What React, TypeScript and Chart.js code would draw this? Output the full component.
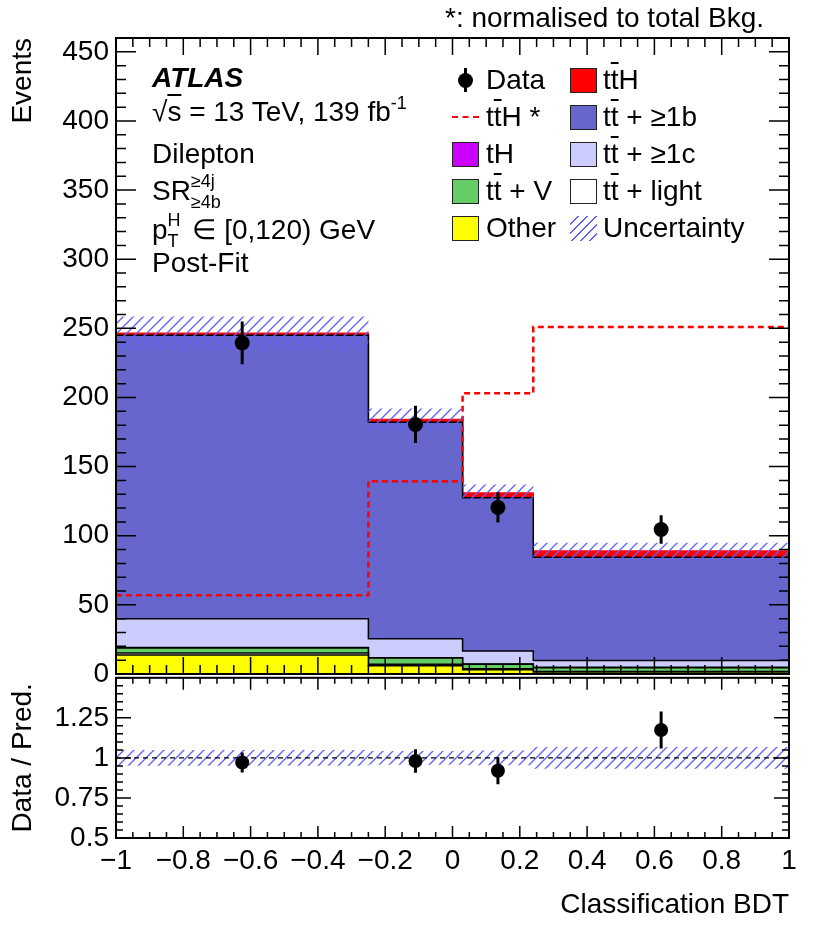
import React, { useEffect, useRef } from 'react';
import { Chart, registerables } from 'chart.js';

Chart.register(...registerables);

// bin edges of the classification BDT histogram
const binEdges = [-1, -0.25, 0.03, 0.24, 1];

// post-fit predictions per bin (events)
const other = [13.7, 6, 3, 1.5];
const ttLight = [1.5, 1, 0.8, 0.3];
const ttV = [3.6, 4.5, 3.2, 2.8];
const tH = [0.3, 0.3, 0.3, 0.2];
const ttc = [20.9, 13.7, 9.3, 5.0];
const ttb = [205, 156.5, 110.9, 74.6];
const ttH = [1.5, 2, 3.5, 4.6];
const ttHNorm = [57, 139.5, 203, 251];
const bkgUnc = [12, 8, 6, 6];

const dataValues = [239.5, 180.5, 120.5, 104.5];
const dataErrors = [15.5, 13.5, 11, 10.3];

// tick labels
const mainYTicks = [0, 50, 100, 150, 200, 250, 300, 350, 400, 450];
const ratioYTicks = [0.5, 0.75, 1, 1.25];
const xTickValues = [-1, -0.8, -0.6, -0.4, -0.2, 0, 0.2, 0.4, 0.6, 0.8, 1];

const FONT = '"Liberation Sans", Arial, Helvetica, sans-serif';
const FS = 28;
const HATCH = '#5f5fff';

Chart.defaults.font.family = FONT;
Chart.defaults.font.size = FS;
Chart.defaults.color = '#000';

const layers = [
  { name: 'Other', values: other, color: '#ffff00', border: '#000' },
  { name: 'tt+light', values: ttLight, color: '#ffffff', border: '#000' },
  { name: 'tt+V', values: ttV, color: '#66cc66', border: '#000' },
  { name: 'tH', values: tH, color: '#cc00ff', border: '#000' },
  { name: 'tt+>=1c', values: ttc, color: '#ccccff', border: '#000' },
  { name: 'tt+>=1b', values: ttb, color: '#6666cc', border: '#000' },
  { name: 'ttH', values: ttH, color: '#ff0000', border: '#ff0000' },
];

const histPoints = (values: number[]) =>
  values.flatMap((v, i) => [
    { x: binEdges[i], y: v },
    { x: binEdges[i + 1], y: v },
  ]);

const centers = binEdges.slice(0, -1).map((e, i) => (e + binEdges[i + 1]) / 2);

const errorSegments = (ys: number[], es: number[]) =>
  centers.flatMap((x, i) => [
    { x, y: ys[i] - es[i] },
    { x, y: ys[i] + es[i] },
    { x, y: null },
  ]);

function hatchPattern(ctx: CanvasRenderingContext2D) {
  const s = 10;
  const c = document.createElement('canvas');
  c.width = s;
  c.height = s;
  const g = c.getContext('2d')!;
  g.strokeStyle = HATCH;
  g.lineWidth = 1.3;
  g.beginPath();
  g.moveTo(0, s);
  g.lineTo(s, 0);
  g.moveTo(-s / 2, s / 2);
  g.lineTo(s / 2, -s / 2);
  g.moveTo(s / 2, s * 1.5);
  g.lineTo(s * 1.5, s / 2);
  g.stroke();
  return ctx.createPattern(c, 'repeat')!;
}

type TickSpec = {
  xMajor: number; xMinor: number; yMajor: number; yMinor: number;
  xMajLen: number; xMinLen: number; yMajLen: number; yMinLen: number;
};

const isMultiple = (v: number, step: number) => Math.abs(v / step - Math.round(v / step)) < 1e-6;

const frameTicks = (spec: TickSpec) => ({
  id: 'frameTicks',
  afterDraw(chart: any) {
    const { ctx, chartArea: a, scales } = chart;
    const xs = scales.x;
    const ys = scales.y;
    ctx.save();
    ctx.strokeStyle = '#000';
    ctx.lineWidth = 1.5;
    ctx.beginPath();
    const x0 = Math.ceil(xs.min / spec.xMinor - 1e-6);
    const x1 = Math.floor(xs.max / spec.xMinor + 1e-6);
    for (let k = x0; k <= x1; k++) {
      const v = k * spec.xMinor;
      const len = isMultiple(v, spec.xMajor) ? spec.xMajLen : spec.xMinLen;
      const px = xs.getPixelForValue(v);
      ctx.moveTo(px, a.bottom);
      ctx.lineTo(px, a.bottom - len);
      ctx.moveTo(px, a.top);
      ctx.lineTo(px, a.top + len);
    }
    const y0 = Math.ceil(ys.min / spec.yMinor - 1e-6);
    const y1 = Math.floor(ys.max / spec.yMinor + 1e-6);
    for (let k = y0; k <= y1; k++) {
      const v = k * spec.yMinor;
      const len = isMultiple(v, spec.yMajor) ? spec.yMajLen : spec.yMinLen;
      const py = ys.getPixelForValue(v);
      ctx.moveTo(a.left, py);
      ctx.lineTo(a.left + len, py);
      ctx.moveTo(a.right, py);
      ctx.lineTo(a.right - len, py);
    }
    ctx.stroke();
    ctx.lineWidth = 2;
    ctx.strokeRect(a.left, a.top, a.right - a.left, a.bottom - a.top);
    ctx.restore();
  },
});

const fmtX = (v: number) => String(Math.round(v * 10) / 10).replace('-', '\u2212');

const TT = () => (
  <span>
    t<span style={{ textDecoration: 'overline' }}>t</span>
  </span>
);

const Scripts = ({ sup, sub, width }: { sup: string; sub: string; width: number }) => (
  <span style={{ position: 'relative', display: 'inline-block', width, height: 20 }}>
    <span style={{ position: 'absolute', left: 0, top: -13, fontSize: 18 }}>{sup}</span>
    <span style={{ position: 'absolute', left: 0, top: 8, fontSize: 18 }}>{sub}</span>
  </span>
);

const Swatch = ({ left, cy, color, border = '1px solid #222' }: { left: number; cy: number; color: string; border?: string }) => (
  <div style={{ position: 'absolute', left, top: cy - 12.5, width: 27, height: 25, boxSizing: 'border-box', background: color, border }} />
);

export default function App() {
  const mainRef = useRef<HTMLCanvasElement>(null);
  const ratioRef = useRef<HTMLCanvasElement>(null);

  useEffect(() => {
    if (!mainRef.current || !ratioRef.current) return;
    const mctx = mainRef.current.getContext('2d')!;
    const rctx = ratioRef.current.getContext('2d')!;

    // cumulative stack built from the components
    const cum: number[][] = [];
    layers.forEach((l, j) => {
      cum.push(l.values.map((v, i) => v + (j > 0 ? cum[j - 1][i] : 0)));
    });
    const total = cum[cum.length - 1];

    const lineBase = { pointRadius: 0, pointHitRadius: 0, tension: 0 };

    const main = new Chart(mctx, {
      type: 'line',
      data: {
        datasets: [
          { ...lineBase, label: 'Data err', data: errorSegments(dataValues, dataErrors) as any, borderColor: '#000', borderWidth: 3, spanGaps: false },
          { label: 'Data', data: centers.map((x, i) => ({ x, y: dataValues[i] })), showLine: false, pointRadius: 7.5, pointBackgroundColor: '#000', pointBorderColor: '#000', pointBorderWidth: 0 },
          { ...lineBase, label: 'Unc up', data: histPoints(total.map((t, i) => t + bkgUnc[i])), borderWidth: 0, borderColor: 'rgba(0,0,0,0)', backgroundColor: hatchPattern(mctx), fill: '+1' },
          { ...lineBase, label: 'Unc down', data: histPoints(total.map((t, i) => t - bkgUnc[i])), borderWidth: 0, borderColor: 'rgba(0,0,0,0)', fill: false },
          { ...lineBase, label: 'ttH *', data: histPoints(ttHNorm), borderColor: '#ff0000', borderWidth: 2.5, borderDash: [6, 4], fill: false },
          ...layers.map((l, j) => ({
            ...lineBase,
            label: l.name,
            data: histPoints(cum[j]),
            borderColor: l.border,
            borderWidth: 1.5,
            backgroundColor: l.color,
            fill: 'origin',
          })),
        ],
      },
      options: {
        animation: false,
        responsive: false,
        events: [],
        layout: { padding: { left: 0, right: 41, top: 38, bottom: 26 } },
        plugins: { legend: { display: false }, tooltip: { enabled: false } },
        scales: {
          x: { type: 'linear', min: -1, max: 1, display: false },
          y: {
            type: 'linear',
            min: 0,
            max: 460,
            grid: { display: false, drawTicks: false },
            border: { display: false },
            ticks: { padding: 7, color: '#000', font: { size: FS }, callback: (v: any) => String(v) },
            afterBuildTicks: (s: any) => { s.ticks = mainYTicks.map((value) => ({ value })); },
            afterFit: (s: any) => { s.width = 116; },
            title: { display: true, text: 'Events', align: 'end', color: '#000', font: { size: FS }, padding: { top: 6, bottom: 0 } },
          },
        },
      },
      plugins: [frameTicks({ xMajor: 0.2, xMinor: 0.05, yMajor: 50, yMinor: 10, xMajLen: 17, xMinLen: 9, yMajLen: 20, yMinLen: 10 })],
    } as any);

    const ratioVals = dataValues.map((d, i) => d / total[i]);
    const ratioErrs = dataErrors.map((e, i) => e / total[i]);
    const relUnc = bkgUnc.map((u, i) => u / total[i]);

    const ratio = new Chart(rctx, {
      type: 'line',
      data: {
        datasets: [
          { ...lineBase, label: 'Ratio err', data: errorSegments(ratioVals, ratioErrs) as any, borderColor: '#000', borderWidth: 3, spanGaps: false },
          { label: 'Ratio', data: centers.map((x, i) => ({ x, y: ratioVals[i] })), showLine: false, pointRadius: 7, pointBackgroundColor: '#000', pointBorderColor: '#000', pointBorderWidth: 0 },
          { ...lineBase, label: 'One', data: [{ x: binEdges[0], y: 1 }, { x: binEdges[binEdges.length - 1], y: 1 }], borderColor: '#000', borderWidth: 1.2, borderDash: [5, 4], fill: false },
          { ...lineBase, label: 'Unc up', data: histPoints(relUnc.map((u) => 1 + u)), borderWidth: 0, borderColor: 'rgba(0,0,0,0)', backgroundColor: hatchPattern(rctx), fill: '+1' },
          { ...lineBase, label: 'Unc down', data: histPoints(relUnc.map((u) => 1 - u)), borderWidth: 0, borderColor: 'rgba(0,0,0,0)', fill: false },
        ],
      },
      options: {
        animation: false,
        responsive: false,
        events: [],
        layout: { padding: { left: 0, right: 41, top: 20, bottom: 0 } },
        plugins: { legend: { display: false }, tooltip: { enabled: false } },
        scales: {
          x: {
            type: 'linear',
            min: -1,
            max: 1,
            grid: { display: false, drawTicks: false },
            border: { display: false },
            ticks: { autoSkip: false, maxRotation: 0, minRotation: 0, padding: 6, color: '#000', font: { size: FS }, callback: (v: any) => fmtX(v) },
            afterBuildTicks: (s: any) => { s.ticks = xTickValues.map((value) => ({ value })); },
            afterFit: (s: any) => { s.height = 98; },
            title: { display: true, text: 'Classification BDT', align: 'end', color: '#000', font: { size: FS }, padding: { top: 0, bottom: 14 } },
          },
          y: {
            type: 'linear',
            min: 0.5,
            max: 1.5,
            grid: { display: false, drawTicks: false },
            border: { display: false },
            ticks: { padding: 7, color: '#000', font: { size: FS }, callback: (v: any) => String(v) },
            afterBuildTicks: (s: any) => { s.ticks = ratioYTicks.map((value) => ({ value })); },
            afterFit: (s: any) => { s.width = 116; },
            title: { display: true, text: 'Data / Pred.', align: 'center', color: '#000', font: { size: FS }, padding: { top: 6, bottom: 0 } },
          },
        },
      },
      plugins: [frameTicks({ xMajor: 0.2, xMinor: 0.05, yMajor: 0.25, yMinor: 0.05, xMajLen: 12, xMinLen: 6, yMajLen: 15, yMinLen: 7 })],
    } as any);

    return () => {
      main.destroy();
      ratio.destroy();
    };
  }, []);

  const text = (center: number, left: number): React.CSSProperties => ({
    position: 'absolute', top: center - 14, left, fontSize: FS, lineHeight: `${FS}px`, whiteSpace: 'nowrap', fontFamily: FONT, color: '#000',
  });
  const rows = [80, 117, 154, 191, 228];
  const c1s = 452, c1t = 486, c2s = 570, c2t = 603;

  return (
    <div style={{ position: 'absolute', left: 0, top: 0, width: 830, height: 936, background: '#fff', fontFamily: FONT }}>
      <canvas ref={mainRef} width={830} height={700} style={{ position: 'absolute', left: 0, top: 0 }} />
      <canvas ref={ratioRef} width={830} height={282} style={{ position: 'absolute', left: 0, top: 654 }} />

      <div style={text(18, 445)}>*: normalised to total Bkg.</div>

      <div style={{ ...text(78, 152), fontWeight: 'bold', fontStyle: 'italic' }}>ATLAS</div>
      <div style={text(112, 152)}>
        √<span style={{ textDecoration: 'overline' }}>s</span> = 13 TeV, 139 fb
        <span style={{ position: 'relative', top: -12, fontSize: 18 }}>-1</span>
      </div>
      <div style={text(154, 152)}>Dilepton</div>
      <div style={text(191, 152)}>
        SR<Scripts sup="≥4j" sub="≥4b" width={34} />
      </div>
      <div style={text(230, 152)}>
        p<Scripts sup="H" sub="T" width={17} /> ∈ [0,120) GeV
      </div>
      <div style={text(263, 152)}>Post-Fit</div>

      {/* legend, first column */}
      <div style={{ position: 'absolute', left: 464, top: rows[0] - 12, width: 2.5, height: 24, background: '#000' }} />
      <div style={{ position: 'absolute', left: 458, top: rows[0] - 7.5, width: 15, height: 15, borderRadius: '50%', background: '#000' }} />
      <div style={text(rows[0], c1t)}>Data</div>
      <div style={{ position: 'absolute', left: c1s, top: rows[1] - 1, width: 27, height: 0, borderTop: '2.5px dashed #ff0000' }} />
      <div style={text(rows[1], c1t)}><TT />H *</div>
      <Swatch left={c1s} cy={rows[2]} color="#cc00ff" />
      <div style={text(rows[2], c1t)}>tH</div>
      <Swatch left={c1s} cy={rows[3]} color="#66cc66" />
      <div style={text(rows[3], c1t)}><TT /> + V</div>
      <Swatch left={c1s} cy={rows[4]} color="#ffff00" />
      <div style={text(rows[4], c1t)}>Other</div>

      {/* legend, second column */}
      <Swatch left={c2s} cy={rows[0]} color="#ff0000" />
      <div style={text(rows[0], c2t)}><TT />H</div>
      <Swatch left={c2s} cy={rows[1]} color="#6666cc" />
      <div style={text(rows[1], c2t)}><TT /> + ≥1b</div>
      <Swatch left={c2s} cy={rows[2]} color="#ccccff" />
      <div style={text(rows[2], c2t)}><TT /> + ≥1c</div>
      <Swatch left={c2s} cy={rows[3]} color="#ffffff" />
      <div style={text(rows[3], c2t)}><TT /> + light</div>
      <Swatch
        left={c2s}
        cy={rows[4]}
        color={`repeating-linear-gradient(135deg, rgba(0,0,0,0) 0px, rgba(0,0,0,0) 5px, ${HATCH} 5px, ${HATCH} 6.5px)`}
        border="none"
      />
      <div style={text(rows[4], c2t)}>Uncertainty</div>
    </div>
  );
}
